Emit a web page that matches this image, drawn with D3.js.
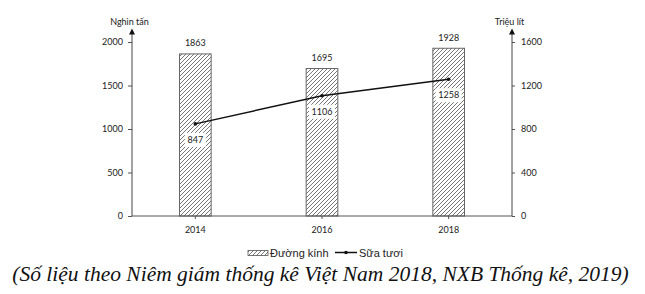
<!DOCTYPE html>
<html><head><meta charset="utf-8">
<script src="https://cdn.jsdelivr.net/npm/d3@7"></script>
<style>body{margin:0;background:#fff}</style>
</head><body><svg id="c" width="645" height="294"></svg>
<script>
const years = ["2014", "2016", "2018"];
const duongKinh = [1863, 1695, 1928];
const suaTuoi = [847, 1106, 1258];
const leftTicks = [0, 500, 1000, 1500, 2000];
const rightTicks = [0, 400, 800, 1200, 1600];

const svg = d3.select("#c");
svg.append("rect").attr("width", 645).attr("height", 294).attr("fill", "#fff");
const tickFont = "Lato, 'Open Sans', sans-serif";

const defs = svg.append("defs");
const pat = defs.append("pattern").attr("id", "hatch").attr("patternUnits", "userSpaceOnUse")
  .attr("width", 4).attr("height", 4);
pat.append("rect").attr("width", 4).attr("height", 4).attr("fill", "#fff");
pat.append("path").attr("d", "M0,4L4,0M-1,1L1,-1M3,5L5,3").attr("stroke", "#555").attr("stroke-width", 0.8);

const x = d3.scaleBand().domain(years).range([132, 512]).paddingInner(0.75).paddingOuter(0.375);
const yL = d3.scaleLinear().domain([0, 2000]).range([216, 42]);
const yR = d3.scaleLinear().domain([0, 1600]).range([216, 42]);

// bars
svg.selectAll("rect.bar").data(years).join("rect").attr("class", "bar")
  .attr("x", d => x(d)).attr("width", x.bandwidth())
  .attr("y", (d, i) => yL(duongKinh[i])).attr("height", (d, i) => yL(0) - yL(duongKinh[i]))
  .attr("fill", "url(#hatch)").attr("stroke", "#666").attr("stroke-width", 1);

svg.selectAll("text.blab").data(years).join("text").attr("class", "blab")
  .attr("x", d => x(d) + x.bandwidth() / 2).attr("y", (d, i) => yL(duongKinh[i]) - 7.5)
  .attr("text-anchor", "middle").attr("font-family", tickFont).attr("font-size", 9).attr("fill", "#222")
  .text((d, i) => duongKinh[i]);

// axes
const fmt = d3.format("d");
const gL = svg.append("g").attr("transform", "translate(132,0)")
  .call(d3.axisLeft(yL).tickValues(leftTicks).tickFormat(fmt).tickSize(4).tickPadding(5));
const gR = svg.append("g").attr("transform", "translate(512,0)")
  .call(d3.axisRight(yR).tickValues(rightTicks).tickFormat(fmt).tickSize(3).tickPadding(6));
const gX = svg.append("g").attr("transform", "translate(0,216)")
  .call(d3.axisBottom(x).tickSize(3).tickPadding(7.5));
[gL, gR, gX].forEach(g => {
  g.select(".domain").remove();
  g.selectAll("text").attr("font-family", tickFont).attr("font-size", 9).attr("fill", "#222");
  g.selectAll("line").attr("stroke", "#555");
});
svg.append("line").attr("x1", 132).attr("x2", 512).attr("y1", 216).attr("y2", 216).attr("stroke", "#555");
[132, 512].forEach(ax => {
  svg.append("line").attr("x1", ax).attr("x2", ax).attr("y1", 216).attr("y2", 32).attr("stroke", "#444").attr("stroke-width", 1);
  svg.append("path").attr("d", `M${ax - 3},34.5L${ax + 3},34.5L${ax},28.5Z`).attr("fill", "#111");
});
svg.append("text").attr("x", 129.5).attr("y", 25).attr("text-anchor", "middle")
  .attr("font-family", tickFont).attr("font-size", 9).attr("fill", "#222").text("Nghìn tấn");
svg.append("text").attr("x", 509.5).attr("y", 25).attr("text-anchor", "middle")
  .attr("font-family", tickFont).attr("font-size", 9).attr("fill", "#222").text("Triệu lít");

// line
const cx = d => x(d) + x.bandwidth() / 2;
const line = d3.line().x((d, i) => cx(years[i])).y(d => yR(d));
svg.append("path").datum(suaTuoi).attr("d", line).attr("fill", "none").attr("stroke", "#111").attr("stroke-width", 1.5);
svg.selectAll("circle.pt").data(suaTuoi).join("circle").attr("class", "pt")
  .attr("cx", (d, i) => cx(years[i])).attr("cy", d => yR(d)).attr("r", 1.8).attr("fill", "#111");

const lg = svg.selectAll("g.llab").data(suaTuoi).join("g").attr("class", "llab")
  .attr("transform", (d, i) => `translate(${cx(years[i])},${yR(d) + 16})`);
lg.append("rect").attr("x", d => -(String(d).length * 5 + 6) / 2).attr("y", -7)
  .attr("width", d => String(d).length * 5 + 6).attr("height", 14).attr("fill", "#fff");
lg.append("text").attr("text-anchor", "middle").attr("dy", "0.35em")
  .attr("font-family", tickFont).attr("font-size", 9).attr("fill", "#222").text(d => d);

// legend
svg.append("rect").attr("x", 248).attr("y", 250.5).attr("width", 20).attr("height", 5)
  .attr("fill", "url(#hatch)").attr("stroke", "#555").attr("stroke-width", 0.8);
svg.append("text").attr("x", 270).attr("y", 256.5).attr("font-family", "'Liberation Sans', Arial, sans-serif")
  .attr("font-size", 11).attr("fill", "#222").text("Đường kính");
svg.append("line").attr("x1", 335).attr("x2", 357).attr("y1", 252.5).attr("y2", 252.5).attr("stroke", "#111").attr("stroke-width", 1.5);
svg.append("circle").attr("cx", 346).attr("cy", 252.5).attr("r", 1.8).attr("fill", "#111");
svg.append("text").attr("x", 359).attr("y", 256.5).attr("font-family", "'Liberation Sans', Arial, sans-serif")
  .attr("font-size", 11).attr("fill", "#222").text("Sữa tươi");

// caption
svg.append("text").attr("x", 320.5).attr("y", 281).attr("text-anchor", "middle")
  .attr("font-family", "'Liberation Serif', 'Times New Roman', serif").attr("font-style", "italic")
  .attr("font-size", 21.5).attr("fill", "#111")
  .text("(Số liệu theo Niêm giám thống kê Việt Nam 2018, NXB Thống kê, 2019)");
</script></body></html>
